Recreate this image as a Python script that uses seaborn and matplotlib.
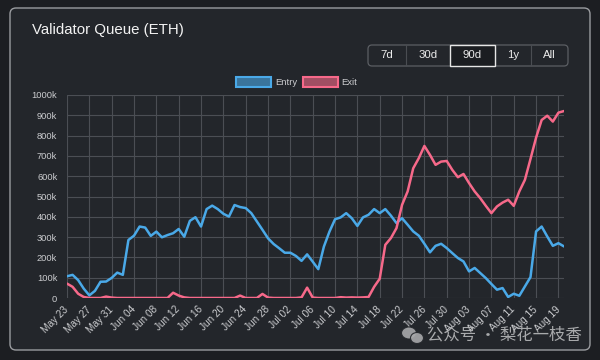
import pandas as pd
import seaborn as sns
import matplotlib.pyplot as plt
import matplotlib.dates as mdates
from matplotlib.patches import FancyBboxPatch, Patch, Rectangle, Ellipse
from matplotlib.ticker import FuncFormatter

sns.set_theme(style="dark")
plt.rcParams["font.family"] = ["Liberation Sans", "Noto Sans CJK SC", "DejaVu Sans"]

# daily queue size, thousands of ETH, May 23 -> Aug 20
start_date = "2025-05-23"
entry_k = [107, 114, 88, 46, 13, 35, 80, 81, 99, 125,
           114, 286, 307, 352, 347, 306, 327, 299, 310, 319,
           340, 302, 380, 398, 352, 438, 455, 438, 415, 401,
           458, 448, 443, 418, 377, 336, 294, 266, 245, 223,
           223, 207, 183, 215, 179, 142, 253, 327, 388, 397,
           418, 393, 355, 397, 410, 438, 418, 438, 406, 369,
           393, 361, 328, 307, 267, 225, 257, 267, 246, 221,
           197, 180, 131, 148, 123, 98, 69, 41, 49, 5,
           21, 11, 57, 103, 328, 352, 303, 257, 270, 254]
exit_k = [71, 55, 21, 5, 0, 0, 0, 7, 2, 0,
          0, 0, 0, 0, 0, 0, 0, 0, 0, 26,
          12, 3, 0, 0, 0, 0, 0, 0, 0, 0,
          0, 12, 0, 0, 0, 20, 2, 0, 0, 0,
          0, 0, 3, 51, 2, 0, 0, 0, 0, 4,
          2, 3, 2, 3, 5, 55, 95, 262, 295, 344,
          459, 525, 639, 689, 749, 705, 656, 672, 675, 631,
          595, 611, 566, 525, 492, 454, 418, 451, 470, 484,
          454, 525, 582, 685, 790, 877, 898, 869, 913, 921]
series_names = ["Entry", "Exit"]
series_colors = ["#4aa9e8", "#f7698a"]
range_buttons = ["7d", "30d", "90d", "1y", "All"]
selected_button = "90d"
title = "Validator Queue (ETH)"
watermark = "公众号 · 梨花一枝香"

dates = pd.date_range(start_date, periods=len(entry_k), freq="D")
df = pd.DataFrame({"date": dates, "Entry": entry_k, "Exit": exit_k})
long_df = df.melt(id_vars="date", var_name="series", value_name="queue")

outer_bg = "#1c1e22"
card_bg = "#23262b"
grid_c = "#4b4e54"
text_c = "#cbcccf"

fig = plt.figure(figsize=(6, 3.6), dpi=100)
fig.patch.set_facecolor(outer_bg)


def px(x, y):
    # pixel (top-left origin) -> inches for dpi_scale_trans
    return x / 100, (360 - y) / 100


# card
cx, cy = px(10, 350)
card = FancyBboxPatch((cx, cy), 5.8, 3.42, boxstyle="round,pad=0,rounding_size=0.06",
                      transform=fig.dpi_scale_trans, facecolor=card_bg,
                      edgecolor="#9a9ca0", linewidth=1.0, zorder=-5)
fig.patches.append(card)

ax = fig.add_axes([67 / 600, 1 - 298 / 360, (564 - 67) / 600, (298 - 95) / 360])
ax.set_facecolor("none")

sns.lineplot(data=long_df, x="date", y="queue", hue="series", hue_order=series_names,
             palette=series_colors, linewidth=1.8, ax=ax, legend=False)

ax.set_xlim(dates[0], dates[-1])
ax.set_ylim(0, 1000)
ax.set_yticks(range(0, 1001, 100))
ax.yaxis.set_major_formatter(FuncFormatter(lambda v, _: "0" if v == 0 else f"{int(v)}k"))
ax.set_xticks(dates[::4])
ax.xaxis.set_major_formatter(mdates.DateFormatter("%b %d"))
ax.set(xlabel="", ylabel="")

ax.grid(True, color=grid_c, linewidth=0.8)
ax.set_axisbelow(True)
for s in ax.spines.values():
    s.set_visible(False)
ax.tick_params(axis="both", length=4, width=0.8, color=grid_c, labelsize=6.7,
               labelcolor=text_c, pad=3)
ax.tick_params(axis="x", labelsize=7.2)
plt.setp(ax.get_xticklabels(), rotation=45, ha="right", va="center",
         rotation_mode="anchor")

# legend
handles = [Patch(facecolor=c + "99", edgecolor=c, linewidth=1.5) for c in series_colors]
leg = fig.legend(handles, series_names, loc="center", bbox_to_anchor=(297 / 600, 1 - 82 / 360),
                 ncol=2, frameon=False, fontsize=6.8, handlelength=3.7, handleheight=1.2,
                 handletextpad=0.4, columnspacing=0.6, borderpad=0)
for t in leg.get_texts():
    t.set_color(text_c)

# title
tx, ty = px(32, 30)
fig.text(tx, ty, title, transform=fig.dpi_scale_trans, fontsize=10.8,
         color="#f2f2f2", va="center", ha="left")

# range buttons
bx0, bx1, btop, bbot = 368, 568, 45, 66
edges = [368, 405.5, 450, 495, 530.5, 568]
x0, y0 = px(bx0, bbot)
fig.patches.append(FancyBboxPatch((x0, y0), (bx1 - bx0) / 100, (bbot - btop) / 100,
                                  boxstyle="round,pad=0,rounding_size=0.04",
                                  transform=fig.dpi_scale_trans, facecolor=card_bg,
                                  edgecolor="#5b5e63", linewidth=0.9))
for i, lab in enumerate(range_buttons):
    l, r = edges[i], edges[i + 1]
    if 0 < i:
        lx, ly = px(l, bbot)
        fig.patches.append(Rectangle((lx, ly), 0, (bbot - btop) / 100,
                                     transform=fig.dpi_scale_trans,
                                     edgecolor="#4a4d52", linewidth=0.8))
    if lab == selected_button:
        sx, sy = px(l, bbot)
        fig.patches.append(Rectangle((sx, sy), (r - l) / 100, (bbot - btop) / 100,
                                     transform=fig.dpi_scale_trans, facecolor="#1b1d21",
                                     edgecolor="#e6e6e6", linewidth=1.0, zorder=3))
    mx, my = px((l + r) / 2, (btop + bbot) / 2)
    fig.text(mx, my, lab, transform=fig.dpi_scale_trans, fontsize=8.2,
             color="#ececec", ha="center", va="center", zorder=4)

# watermark
for ex, ey, w, h in [(409, 333, 15, 12), (417, 338, 13, 11)]:
    e0, e1 = px(ex, ey)
    fig.patches.append(Ellipse((e0, e1), w / 100, h / 100, transform=fig.dpi_scale_trans,
                               facecolor="#a8a9ab", edgecolor=card_bg, linewidth=0.8,
                               alpha=0.9, zorder=5))
wx, wy = px(427, 335)
fig.text(wx, wy, watermark, transform=fig.dpi_scale_trans, fontsize=11.8,
         color="#b8b9bb", ha="left", va="center", alpha=0.9, zorder=6,
         family=["Noto Sans CJK SC", "DejaVu Sans"])

plt.savefig("out.png", dpi=100, facecolor=outer_bg)
